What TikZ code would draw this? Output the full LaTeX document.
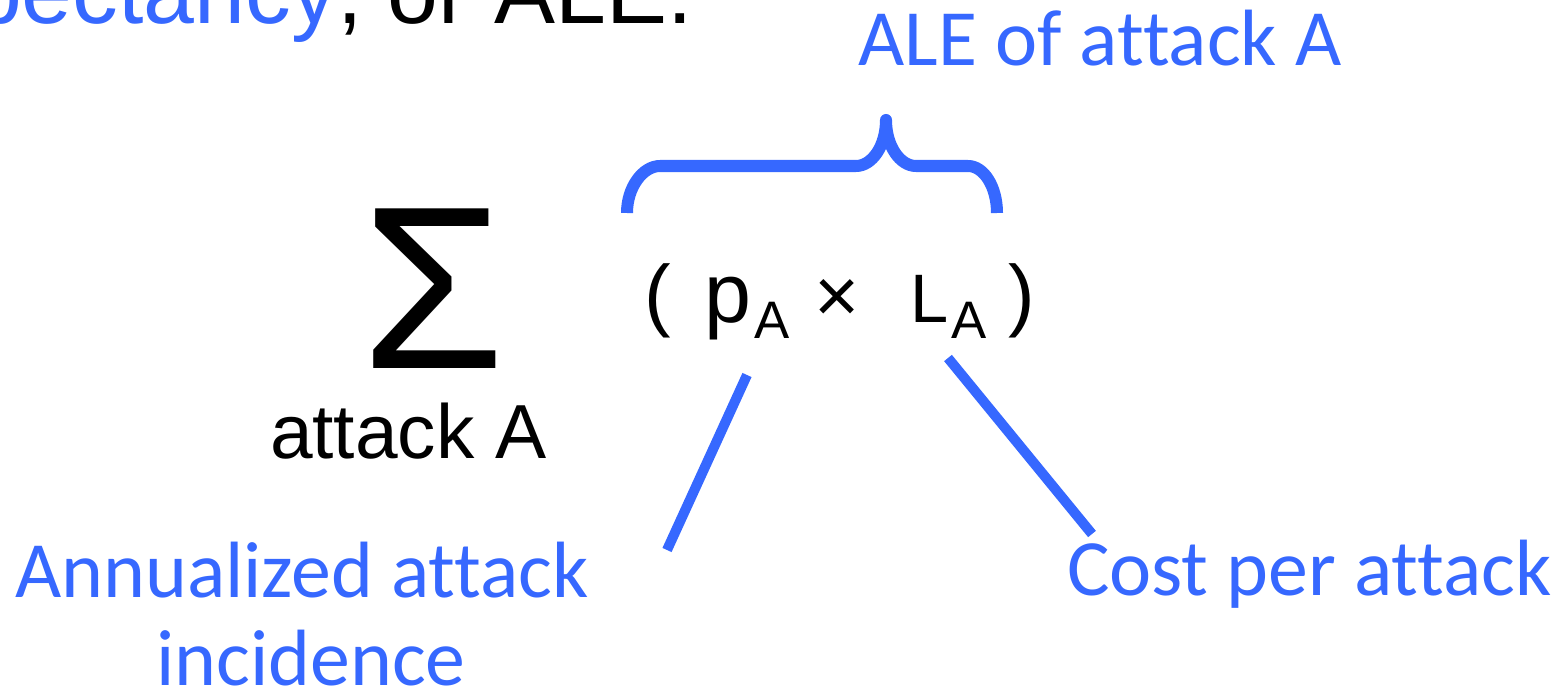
\documentclass[tikz,border=0pt]{standalone}
\usepackage{fontspec}
\setmainfont{Liberation Sans}
\newfontfamily\calib[Ligatures=NoCommon]{Carlito}
\definecolor{aleblue}{RGB}{54,104,255}
\begin{document}
\begin{tikzpicture}[x=0.01cm,y=-0.01cm,
  txt/.style={inner sep=0pt,outer sep=0pt},
  lbl/.style={txt,text=aleblue,font=\calib\fontsize{22.7}{25}\selectfont},
  blueline/.style={draw=aleblue,line width=0.1cm,line cap=butt},
  bracestyle/.style={draw=aleblue,line width=0.12cm,line cap=butt,line join=round}]
\useasboundingbox (0,0) rectangle (1554,691);
\clip (0,0) rectangle (1554,691);
% top (cut-off) sentence
\node[txt,anchor=base east,text=aleblue,font=\fontsize{26}{30}\selectfont] (pect) at (337,24) {pectancy};
\node[txt,anchor=base west,font=\fontsize{26}{30}\selectfont] (orale) at (pect.base east) {, or ALE.};
% sum
\node[txt,anchor=base,font=\fontsize{66}{72}\selectfont] (sigma) at (433,368) {Σ};
\node[txt,anchor=base west,font=\fontsize{21.8}{26}\selectfont] (under) at (270,458) {attack A};
% formula
\node[txt,anchor=base,font=\fontsize{22.7}{26}\selectfont] (lpar) at (658,321) {(};
\node[txt,anchor=base,font=\fontsize{24}{28}\selectfont] (p) at (728,323) {p};
\node[txt,anchor=base,font=\fontsize{15}{18}\selectfont] (pa) at (772,338) {A};
\node[txt,anchor=base,font=\fontsize{22}{26}\selectfont] (times) at (837,323) {×};
\node[txt,anchor=base,font=\fontsize{19.5}{22}\selectfont] (L) at (930,323) {L};
\node[txt,anchor=base,font=\fontsize{15}{18}\selectfont] (la) at (969,338) {A};
\node[txt,anchor=base,font=\fontsize{22.7}{26}\selectfont] (rpar) at (1022,321) {)};
% brace
\coordinate (bl) at (627,213);
\coordinate (br) at (997,213);
\coordinate (tip) at (886,120);
\draw[bracestyle] (bl) .. controls (627,187) and (643,166) .. (660,166)
  -- (856,166) .. controls (872,166) and (886,146) .. (tip)
  .. controls (886,146) and (900,166) .. (916,166)
  -- (968,166) .. controls (984,166) and (997,187) .. (br);
% labels
\node[lbl,anchor=base] (ale) at (1100,66) {ALE of attack A};
\node[lbl,anchor=base,align=center] (ann) at (311,685) {Annualized attack\hspace*{0.18cm}\\incidence};
\node[lbl,anchor=base west] (cost) at (1067,595) {Cost per attack};
% pointer lines
\coordinate (l1a) at (747,375);
\coordinate (l1b) at (667,550);
\coordinate (l2a) at (948,358);
\coordinate (l2b) at (1092,534);
\draw[blueline] (l1a) -- (l1b);
\draw[blueline] (l2a) -- (l2b);
\end{tikzpicture}
\end{document}
